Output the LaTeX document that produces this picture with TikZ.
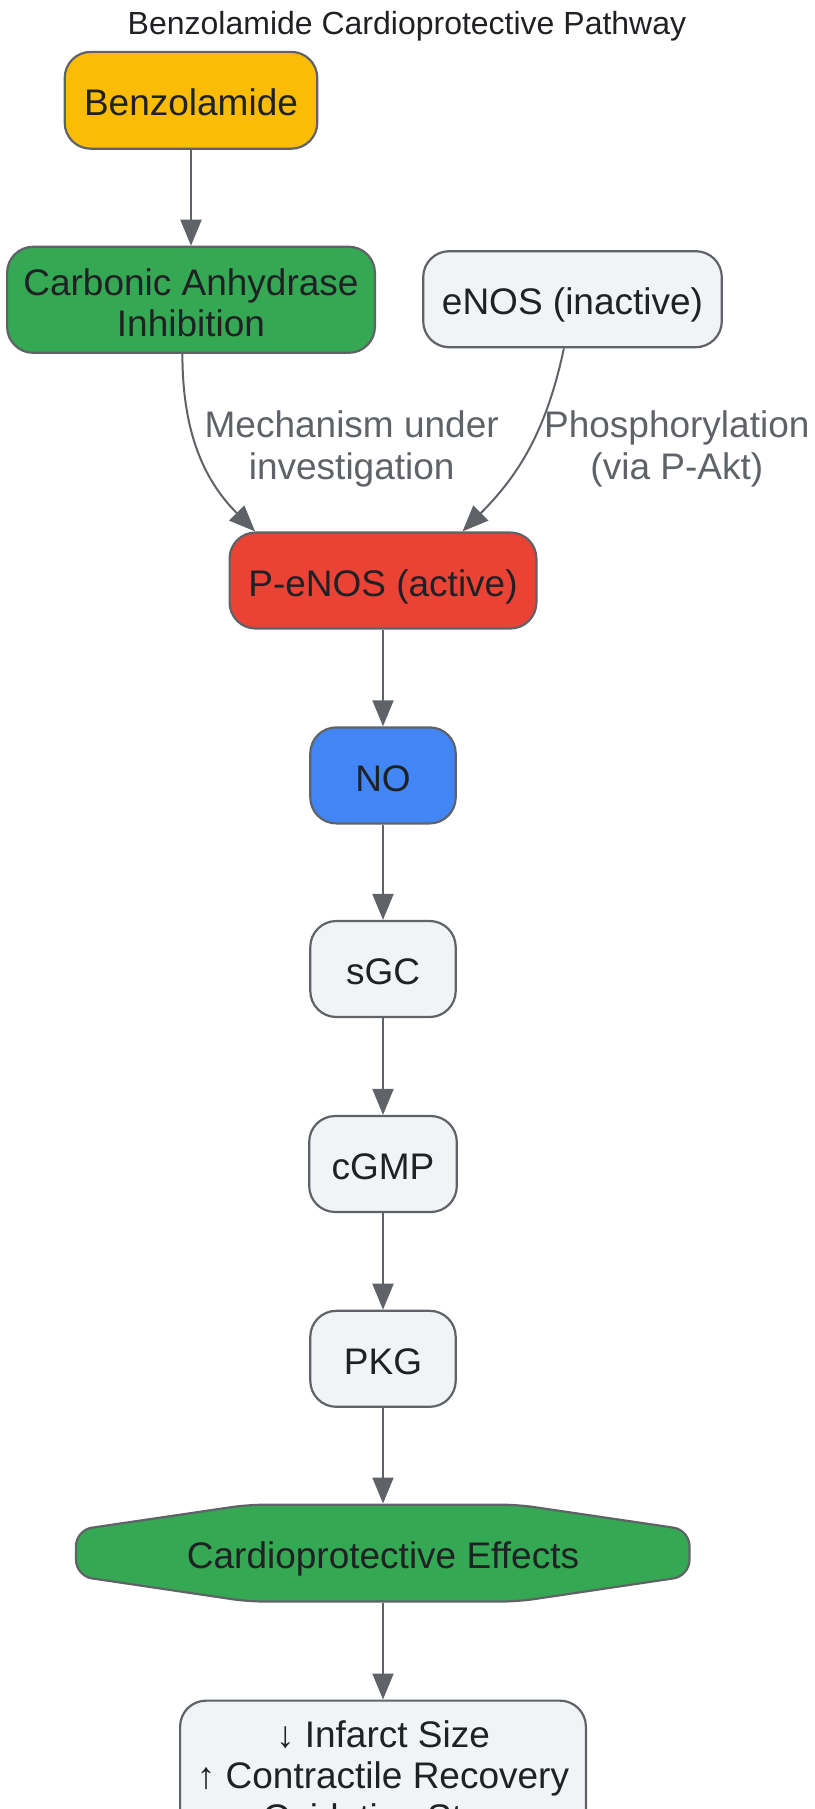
\documentclass[tikz,border=0pt]{standalone}
\usepackage{fontspec}
\setmainfont{Liberation Sans}
\usetikzlibrary{arrows.meta}
\definecolor{benzyellow}{HTML}{FBBC05}
\definecolor{inhibgreen}{HTML}{34A853}
\definecolor{activered}{HTML}{EA4335}
\definecolor{noblue}{HTML}{4285F4}
\definecolor{plaingray}{HTML}{F1F3F4}
\definecolor{linegray}{HTML}{5F6368}
\definecolor{inkdark}{HTML}{202124}
\begin{document}
\begin{tikzpicture}[x=0.5pt,y=-0.5pt,
    box/.style={draw=linegray, line width=1.1pt, rounded corners=13pt, minimum height=48pt,
        inner sep=0pt, text=inkdark, align=center, font=\fontsize{18.5pt}{20.75pt}\selectfont},
    oneline/.style={text height=16pt, text depth=0.4pt},
    link/.style={draw=linegray, line width=1pt, -{Triangle[length=13pt,width=10.5pt]}},
    note/.style={text=linegray, align=center, font=\fontsize{18.5pt}{20.75pt}\selectfont}]
    \useasboundingbox (0,0) rectangle (814,1809);

    \node[text height=11.8pt, text depth=0.3pt, text=inkdark, font=\fontsize{16pt}{19pt}\selectfont] (title) at (407,23) {Benzolamide Cardioprotective Pathway};

    \node[box, oneline, fill=benzyellow, minimum width=126.3pt, minimum height=48.4pt] (benz) at (191,100.3) {Benzolamide};
    \node[box, fill=inhibgreen, minimum width=183.9pt, minimum height=53pt, text height=37pt, text depth=0pt] (cai) at (191,299.8) {Carbonic Anhydrase\\Inhibition};
    \node[box, oneline, fill=plaingray, minimum width=149.3pt] (enos) at (572.5,299.2) {eNOS (inactive)};
    \node[box, oneline, fill=activered, minimum width=153.4pt] (penos) at (383,580.5) {P-eNOS (active)};
    \node[box, oneline, fill=noblue, minimum width=72.7pt] (no) at (383,775.4) {NO};
    \node[box, oneline, fill=plaingray, minimum width=72.7pt] (sgc) at (383,969) {sGC};
    \node[box, oneline, fill=plaingray, minimum width=73.8pt] (cgmp) at (383,1164) {cGMP};
    \node[box, oneline, fill=plaingray, minimum width=72.7pt] (pkg) at (383,1358.8) {PKG};

    \draw[draw=linegray, line width=1.1pt, fill=inhibgreen, rounded corners=8pt]
        (76,1530) -- (248,1504.7) -- (518,1504.7) -- (689.5,1530) -- (689.5,1576)
        -- (518,1601.5) -- (248,1601.5) -- (76,1576) -- cycle;
    \node[box, oneline, draw=none, minimum width=306.7pt, minimum height=48.4pt] (effects) at (383,1553) {Cardioprotective Effects};

    \node[box, fill=plaingray, anchor=north, minimum width=202.9pt, inner ysep=10pt] (outcome) at (383,1699.5)
        {↓ Infarct Size\\↑ Contractile Recovery\\↓ Oxidative Stress};

    \node[note] (mechlbl) at (351.7,449) {Mechanism under\\investigation};
    \node[note] (phoslbl) at (676.8,449) {Phosphorylation\\(via P-Akt)};

    \draw[link] (benz.south) -- (cai.north);
    \draw[link] ([xshift=-4.3pt]cai.south) to[out=-90,in=135] ([xshift=13.3pt]penos.north west);
    \draw[link] ([xshift=-4.3pt]enos.south) to[out=-102,in=45] ([xshift=-37.5pt]penos.north east);
    \draw[link] (penos) -- (no);
    \draw[link] (no) -- (sgc);
    \draw[link] (sgc) -- (cgmp);
    \draw[link] (cgmp) -- (pkg);
    \draw[link] (pkg) -- (effects);
    \draw[link] (effects) -- (outcome);
\end{tikzpicture}
\end{document}
